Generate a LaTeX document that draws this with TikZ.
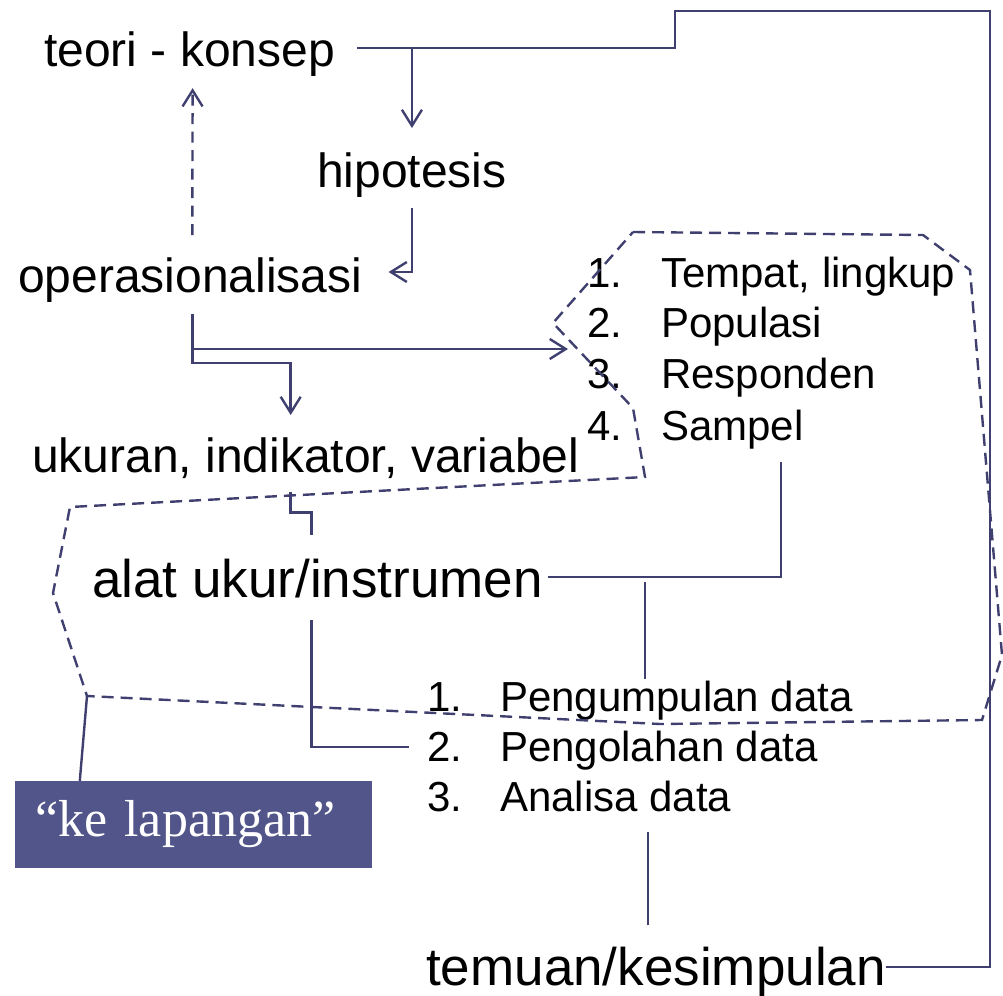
\documentclass[tikz,border=0pt]{standalone}
\usepackage{fontspec}
\setmainfont{Liberation Sans}
\newfontfamily\quotefont{Liberation Serif}
\usepackage{tikz}
\usetikzlibrary{arrows.meta,calc}
\definecolor{linkblue}{RGB}{64,64,112}
\definecolor{fieldblue}{RGB}{82,85,138}

\begin{document}
\begin{tikzpicture}[
  x=1pt,y=-1pt,
  term/.style={inner sep=0pt,anchor=base west,font=\fontsize{48}{58}\selectfont},
  bigterm/.style={term,font=\fontsize{53}{64}\selectfont},
  item/.style={inner sep=0pt,anchor=base west,font=\fontsize{42}{50}\selectfont},
  link/.style={draw=linkblue,line width=2.4pt},
  arrow/.style={link,-{Straight Barb[length=16pt,width=20pt]}},
  dasharrow/.style={arrow,dash pattern=on 11pt off 7.5pt},
  border/.style={draw=linkblue,line width=2.4pt,dash pattern=on 12pt off 7pt},
  field/.style={fill=fieldblue,text=white,inner xsep=20pt,inner ysep=0pt,text width=317pt,minimum height=87pt,align=left,font=\quotefont\fontsize{52}{60}\selectfont}
]
\useasboundingbox (0,0) rectangle (1003,995);

\node[term] (tk) at (44,67) {teori - konsep};
\node[term] (hip) at (317,187) {hipotesis};
\node[term] (ops) at (18,292) {operasionalisasi};
\node[term] (uk) at (32,472) {ukuran, indikator, variabel};
\node[bigterm] (alat) at (92,597) {alat ukur/instrumen};
\node[bigterm] (hasil) at (426,985) {temuan/kesimpulan};

% lingkup
\node[item] (n1) at (587,287) {1.};
\node[item] (t1) at (661,287) {Tempat, lingkup};
\node[item] (n2) at (587,337) {2.};
\node[item] (t2) at (661,337) {Populasi};
\node[item] (n3) at (587,388) {3.};
\node[item] (t3) at (661,388) {Responden};
\node[item] (n4) at (587,440) {4.};
\node[item] (t4) at (661,440) {Sampel};

% data
\node[item] (d1n) at (427,711) {1.};
\node[item] (d1) at (500,711) {Pengumpulan data};
\node[item] (d2n) at (427,761) {2.};
\node[item] (d2) at (500,761) {Pengolahan data};
\node[item] (d3n) at (427,811) {3.};
\node[item] (d3) at (500,811) {Analisa data};

\node[field] (lap) at (193.5,824.5) {“ke lapangan”};

\coordinate (tkout) at ($(tk.base east)+(22,-19)$);
\coordinate (rtop) at (990,11);
\coordinate (ktop) at (675,11);
\coordinate (lstin) at (568,349);
\coordinate (osplit) at ($(ops.south)+(2,12)$);
\coordinate (jn) at (645,577);
\coordinate (pv) at (87,696);

% wilayah lapangan
\draw[border] (633,232) -- (923,235) -- (970,270) -- (1002,655) -- (982,720) -- (660,724) -- (pv) -- (53,593) -- (70,507) -- (645,477) -- (633,408) -- (553,323) -- cycle;

\draw[link] ($(hasil.base east)+(0,-18)$) -| (rtop) -- (ktop) |- (tkout);
\draw[arrow] (tkout -| hip.north) -- ($(hip.north)+(0,-24)$);
\draw[arrow] ($(hip.south)+(0,11)$) |- ($(ops.base east)+(26,-20)$);
\draw[dasharrow] ($(ops.north)+(2,-22)$) -- ($(tk.south)+(3,11)$);
\draw[arrow] (osplit) |- (lstin);
\draw[arrow] (osplit) -- ++(0,49) -| ($(uk.north)+(-15,-22)$);
\draw[link] ($(uk.south)+(-15,14)$) -- ++(0,20) -| ($(alat.north)+(-6,-23)$);
\draw[link] ($(t4.base east)+(-23,22)$) |- ($(alat.base east)+(5,-20)$);
\draw[link] ($(jn)+(0,5)$) -- ($(jn |- d1.north)+(0,-1)$);
\draw[link] ($(alat.base)+(-6,23)$) |- ($(d2n.base west)+(-18,-14)$);
\draw[link] ($(hasil.north)+(-8,-21)$) -- ++(0,-93);
\draw[link] (pv) -- ($(lap.north west)+(65,0)$);
\end{tikzpicture}
\end{document}
